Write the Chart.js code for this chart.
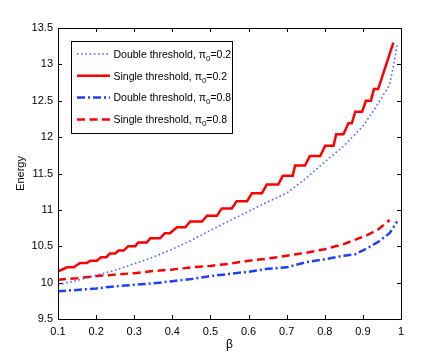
<!DOCTYPE html>
<html>
<head>
<meta charset="utf-8">
<script src="https://cdn.jsdelivr.net/npm/chart.js@4.4.1/dist/chart.umd.min.js"></script>
<style>
html,body{margin:0;padding:0;background:#fff;}
#wrap{width:443px;height:360px;}
</style>
</head>
<body>
<div id="wrap"><canvas id="c" width="443" height="360"></canvas></div>
<script>
// ---- data ----
const xTicks = [0.1,0.2,0.3,0.4,0.5,0.6,0.7,0.8,0.9,1.0];
const yTicks = [9.5,10,10.5,11,11.5,12,12.5,13,13.5];

const labels = [
  "Double threshold, π₀=0.2",
  "Single threshold, π₀=0.2",
  "Double threshold, π₀=0.8",
  "Single threshold, π₀=0.8"
];

// Double threshold, pi0 = 0.2 (blue dotted)
const betaDouble02 =   [0.10,0.15,0.20,0.25,0.30,0.35,0.40,0.45,0.50,0.55,0.60,0.65,0.70,0.75,0.80,0.85,0.90,0.93,0.95,0.97,0.98,0.99];
const energyDouble02 = [9.97,10.03,10.10,10.17,10.26,10.35,10.46,10.58,10.72,10.85,10.98,11.11,11.23,11.43,11.66,11.88,12.15,12.38,12.55,12.72,12.97,13.27];

// Single threshold, pi0 = 0.2 (red solid, staircase)
const betaSingle02 = [0.100,0.107,0.124,0.141,0.158,0.175,0.185,0.202,0.213,0.227,0.236,0.250,0.259,0.272,0.284,0.303,0.310,0.333,0.342,0.368,0.380,0.394,0.412,0.434,0.447,0.478,0.491,0.517,0.530,0.556,0.569,0.596,0.609,0.635,0.648,0.678,0.690,0.716,0.722,0.748,0.761,0.788,0.801,0.823,0.830,0.849,0.862,0.871,0.880,0.898,0.908,0.921,0.929,0.940,0.980];
const energySingle02 = [10.16,10.17,10.21,10.21,10.27,10.27,10.30,10.30,10.35,10.35,10.40,10.40,10.44,10.44,10.50,10.50,10.55,10.55,10.61,10.61,10.68,10.68,10.76,10.76,10.84,10.84,10.92,10.92,11.02,11.02,11.12,11.12,11.23,11.23,11.35,11.35,11.47,11.47,11.61,11.61,11.74,11.74,11.88,11.88,12.04,12.04,12.19,12.19,12.35,12.35,12.50,12.50,12.66,12.66,13.30];

// Double threshold, pi0 = 0.8 (blue dash-dot)
const betaDouble08 =   [0.10,0.15,0.20,0.25,0.30,0.35,0.40,0.45,0.50,0.55,0.60,0.65,0.70,0.75,0.80,0.85,0.88,0.91,0.94,0.97,0.99];
const energyDouble08 = [9.88,9.90,9.92,9.95,9.97,9.99,10.02,10.05,10.09,10.12,10.15,10.19,10.21,10.28,10.32,10.37,10.39,10.47,10.56,10.68,10.84];

// Single threshold, pi0 = 0.8 (red dashed)
const betaSingle08 =   [0.10,0.15,0.20,0.25,0.30,0.35,0.40,0.45,0.50,0.55,0.60,0.65,0.70,0.75,0.80,0.85,0.88,0.91,0.94,0.97];
const energySingle08 = [10.04,10.06,10.09,10.11,10.13,10.16,10.18,10.21,10.23,10.26,10.30,10.33,10.37,10.41,10.46,10.53,10.59,10.65,10.73,10.86];

const toPts = (xs, ys) => xs.map((x, i) => ({x: x, y: ys[i]}));

const FONT = "'Liberation Sans', Arial, Helvetica, sans-serif";

// MATLAB-style box and inward tick marks on all four sides
const boxPlugin = {
  id: 'boxTicks',
  afterDatasetsDraw(chart) {
    const ctx = chart.ctx, a = chart.chartArea;
    const xs = chart.scales.x, ys = chart.scales.y;
    ctx.save();
    ctx.strokeStyle = '#000';
    ctx.lineWidth = 1;
    ctx.beginPath();
    xTicks.forEach(v => {
      const px = Math.round(xs.getPixelForValue(v)) + 0.5;
      ctx.moveTo(px, a.bottom); ctx.lineTo(px, a.bottom - 4);
      ctx.moveTo(px, a.top); ctx.lineTo(px, a.top + 4);
    });
    yTicks.forEach(v => {
      const py = Math.round(ys.getPixelForValue(v)) + 0.5;
      ctx.moveTo(a.left, py); ctx.lineTo(a.left + 4, py);
      ctx.moveTo(a.right, py); ctx.lineTo(a.right - 4, py);
    });
    ctx.stroke();
    ctx.strokeStyle = '#000';
    ctx.strokeRect(Math.round(a.left) + 0.5, Math.round(a.top) + 0.5,
                   Math.round(a.right - a.left), Math.round(a.bottom - a.top));
    ctx.restore();
  }
};

// Legend with subscript π₀
const legendPlugin = {
  id: 'matLegend',
  afterDraw(chart) {
    const ctx = chart.ctx;
    const bx = 71.5, by = 41.5, bw = 161, bh = 92;
    ctx.save();
    ctx.fillStyle = '#fff';
    ctx.fillRect(bx, by, bw, bh);
    ctx.strokeStyle = '#000';
    ctx.lineWidth = 1;
    ctx.strokeRect(bx, by, bw, bh);
    const rows = [54, 75.8, 97.6, 119.4];
    chart.data.datasets.forEach((ds, i) => {
      const y = rows[i];
      ctx.save();
      ctx.strokeStyle = ds.borderColor;
      ctx.lineWidth = ds.borderWidth;
      ctx.setLineDash(ds.borderDash || []);
      ctx.beginPath();
      ctx.moveTo(77, y); ctx.lineTo(110, y);
      ctx.stroke();
      ctx.restore();
      const parts = ds.label.split('₀');
      ctx.fillStyle = '#000';
      ctx.textBaseline = 'alphabetic';
      ctx.textAlign = 'left';
      let x = 113.5;
      const base = y + 3.8;
      ctx.font = '10.5px ' + FONT;
      ctx.fillText(parts[0], x, base);
      x += ctx.measureText(parts[0]).width;
      ctx.font = '8px ' + FONT;
      ctx.fillText('0', x, base + 3);
      x += ctx.measureText('0').width;
      ctx.font = '10.5px ' + FONT;
      ctx.fillText(parts[1], x, base);
    });
    ctx.restore();
  }
};

new Chart(document.getElementById('c'), {
  type: 'line',
  data: {
    datasets: [
      { label: labels[0], data: toPts(betaDouble02, energyDouble02),
        borderColor: '#4a66ff', borderWidth: 1.6, borderDash: [1.6, 2.6] },
      { label: labels[1], data: toPts(betaSingle02, energySingle02),
        borderColor: '#ff0000', borderWidth: 2.5, borderDash: [] },
      { label: labels[2], data: toPts(betaDouble08, energyDouble08),
        borderColor: '#1f3fff', borderWidth: 2.5, borderDash: [8, 3, 2, 3] },
      { label: labels[3], data: toPts(betaSingle08, energySingle08),
        borderColor: '#ff0000', borderWidth: 2.5, borderDash: [8, 4.5] }
    ]
  },
  options: {
    responsive: false,
    animation: false,
    devicePixelRatio: 1,
    layout: { padding: { top: 28, right: 42, left: 0, bottom: 0 } },
    elements: { point: { radius: 0 }, line: { tension: 0, fill: false, borderCapStyle: 'butt' } },
    plugins: { legend: { display: false }, tooltip: { enabled: false } },
    scales: {
      x: {
        type: 'linear', min: 0.1, max: 1.0,
        afterFit: s => { s.height = 41; },
        afterBuildTicks: s => { s.ticks = xTicks.map(v => ({value: v})); },
        grid: { display: false, drawTicks: false },
        border: { display: false },
        ticks: { color: '#000', padding: 6, maxRotation: 0, autoSkip: false,
                 font: { family: FONT, size: 11 },
                 callback: v => String(Number(v.toFixed(1))) },
        title: { display: true, text: 'β', color: '#000',
                 font: { family: FONT, size: 12 }, padding: { top: 0, bottom: 8 } }
      },
      y: {
        type: 'linear', min: 9.5, max: 13.5,
        afterFit: s => { s.width = 58; },
        afterBuildTicks: s => { s.ticks = yTicks.map(v => ({value: v})); },
        grid: { display: false, drawTicks: false },
        border: { display: false },
        ticks: { color: '#000', padding: 5, autoSkip: false,
                 font: { family: FONT, size: 11 },
                 callback: v => String(v) },
        title: { display: true, text: 'Energy', color: '#000',
                 font: { family: FONT, size: 11 }, padding: { top: 14, bottom: 0 } }
      }
    }
  },
  plugins: [boxPlugin, legendPlugin]
});
</script>
</body>
</html>
